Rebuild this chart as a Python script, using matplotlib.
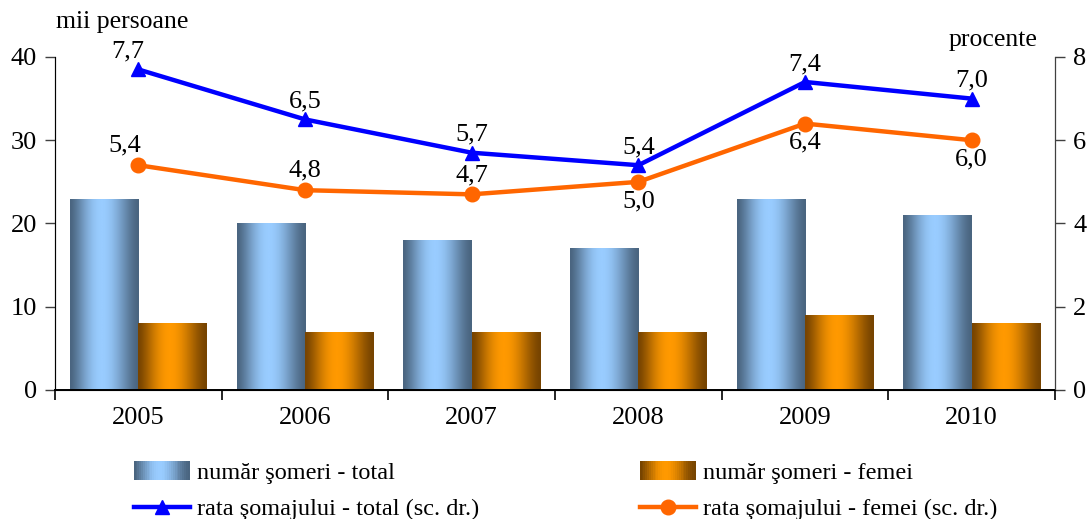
#!/usr/bin/env python3
"""Numar someri si rata somajului, 2005-2010."""

import numpy as np
import matplotlib
matplotlib.use("Agg")
import matplotlib.pyplot as plt
from matplotlib.colors import LinearSegmentedColormap, to_rgb
from matplotlib.legend_handler import HandlerBase
from matplotlib.patches import Rectangle, Patch
from matplotlib.lines import Line2D

plt.rcParams.update({
    "font.family": ["Liberation Serif", "DejaVu Serif"],
    "font.size": 19,
    "axes.spines.top": False,
})

years = ["2005", "2006", "2007", "2008", "2009", "2010"]
someri_total = [23, 20, 18, 17, 23, 21]
someri_femei = [8, 7, 7, 7, 9, 8]
rata_total = [7.7, 6.5, 5.7, 5.4, 7.4, 7.0]
rata_femei = [5.4, 4.8, 4.7, 5.0, 6.4, 6.0]

# label placement for the orange line: +1 above, -1 below
femei_side = [1, 1, 1, -1, -1, -1]

BLUE_DARK, BLUE_LIGHT = "#4a6580", "#99ccff"
ORANGE_DARK, ORANGE_LIGHT = "#774400", "#ff9900"


def gradient_profile(n=64):
    t = np.linspace(0, 1, n)
    # light band around the middle, dark at both edges
    return np.clip(np.sin(np.pi * t ** 0.9) ** 1.5, 0, 1)


def make_cmap(dark, light):
    return LinearSegmentedColormap.from_list("g", [dark, light])


def fill_gradient(ax, bars, dark, light):
    cmap = make_cmap(dark, light)
    prof = gradient_profile()[np.newaxis, :]
    for b in bars:
        x0, w, h = b.get_x(), b.get_width(), b.get_height()
        im = ax.imshow(prof, cmap=cmap, vmin=0, vmax=1, aspect="auto",
                       extent=(x0, x0 + w, 0, h), zorder=2,
                       interpolation="bilinear")
        im.set_clip_path(b)


class GradientHandler(HandlerBase):
    def __init__(self, dark, light, n=30):
        super().__init__()
        self.dark, self.light, self.n = dark, light, n

    def create_artists(self, legend, orig_handle, xdescent, ydescent,
                       width, height, fontsize, trans):
        prof = gradient_profile(self.n)
        d, l = np.array(to_rgb(self.dark)), np.array(to_rgb(self.light))
        h = height * 1.1
        y0 = -ydescent + (height - h) / 2
        sw = width / self.n
        out = []
        for i, v in enumerate(prof):
            out.append(Rectangle((-xdescent + i * sw, y0), sw * 1.05, h,
                                 facecolor=d + (l - d) * v, edgecolor="none",
                                 transform=trans))
        return out


fig = plt.figure(figsize=(10.88, 5.19), dpi=100)
ax = fig.add_axes([0.0506, 0.2486, 0.9191, 0.6416])
ax2 = ax.twinx()

x = np.arange(len(years))
w = 0.41
b1 = ax.bar(x - w / 2, someri_total, w, facecolor="none", edgecolor="none")
b2 = ax.bar(x + w / 2, someri_femei, w, facecolor="none", edgecolor="none")
fill_gradient(ax, b1, BLUE_DARK, BLUE_LIGHT)
fill_gradient(ax, b2, ORANGE_DARK, ORANGE_LIGHT)

ax.set_xlim(-0.5, len(years) - 0.5)
ax.set_ylim(0, 40)
ax.set_yticks([0, 10, 20, 30, 40])
ax.set_xticks(x)
ax.set_xticklabels(years)
ax.set_xticks(np.arange(len(years) + 1) - 0.5, minor=True)
ax.tick_params(axis="x", which="major", length=0, pad=12)
ax.tick_params(axis="x", which="minor", length=7, width=1.2, direction="out")
ax.tick_params(axis="y", length=7, width=1, direction="out", pad=6,
               color="#404040")
ax.spines["left"].set_color("#404040")
ax.spines["bottom"].set_linewidth(1.4)

ax2.set_ylim(0, 8)
ax2.set_yticks([0, 2, 4, 6, 8])
ax2.tick_params(axis="y", length=7, width=1, direction="out", pad=6,
                color="#404040")
ax2.spines["right"].set_color("#404040")
ax2.spines["top"].set_visible(False)

ax2.plot(x, rata_total, color="#0000ff", lw=3.2, marker="^", ms=10,
         zorder=4)
ax2.plot(x, rata_femei, color="#ff6600", lw=3.2, marker="o", ms=10.5,
         zorder=4)

fmt = lambda v: f"{v:.1f}".replace(".", ",")
for i, v in enumerate(rata_total):
    dx = -8 if i == 0 else 0
    ax2.annotate(fmt(v), (x[i], v), xytext=(dx, 5), textcoords="offset points",
                 ha="center", va="bottom", fontsize=19)
for i, v in enumerate(rata_femei):
    s = femei_side[i]
    dx = -10 if i == 0 else 0
    ax2.annotate(fmt(v), (x[i], v), xytext=(dx, 6 * s),
                 textcoords="offset points", ha="center",
                 va="bottom" if s > 0 else "top", fontsize=19)

fig.text(122 / 1088, 1 - 22 / 519, "mii persoane", ha="center", va="center",
         fontsize=18.5)
fig.text(993 / 1088, 1 - 40 / 519, "procente", ha="center", va="center",
         fontsize=18.5)

h_bt = Patch(label="număr şomeri - total")
h_bf = Patch(label="număr şomeri - femei")
h_lt = Line2D([], [], color="#0000ff", lw=3.2, marker="^", ms=10,
              label="rata şomajului - total (sc. dr.)")
h_lf = Line2D([], [], color="#ff6600", lw=3.2, marker="o", ms=10.5,
              label="rata şomajului - femei (sc. dr.)")

leg_kw = dict(frameon=False, fontsize=17.5, handlelength=2.3,
              handletextpad=0.3, labelspacing=0.6, borderaxespad=0,
              loc="upper left")
leg1 = fig.legend([h_bt, h_lt], [h_bt.get_label(), h_lt.get_label()],
                  bbox_to_anchor=(124 / 1088, 1 - 452 / 519),
                  handler_map={h_bt: GradientHandler(BLUE_DARK, BLUE_LIGHT)},
                  **leg_kw)
leg2 = fig.legend([h_bf, h_lf], [h_bf.get_label(), h_lf.get_label()],
                  bbox_to_anchor=(630 / 1088, 1 - 452 / 519),
                  handler_map={h_bf: GradientHandler(ORANGE_DARK, ORANGE_LIGHT)},
                  **leg_kw)

fig.savefig("out.png", dpi=100)
